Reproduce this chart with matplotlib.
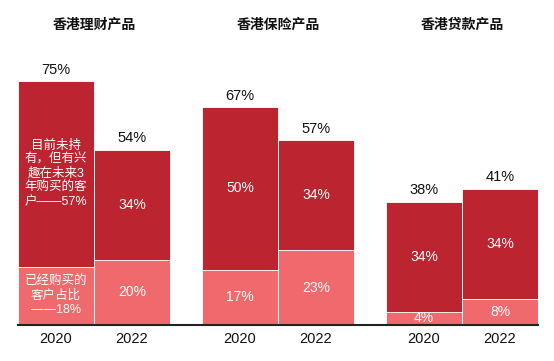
import numpy as np
import matplotlib.pyplot as plt

plt.rcParams['font.family'] = ['Liberation Sans', 'Noto Sans CJK SC', 'DejaVu Sans']

categories = ['香港理财产品', '香港保险产品', '香港贷款产品']
years = ['2020', '2022']
bought = [[18, 20], [17, 23], [4, 8]]
interested = [[57, 34], [50, 34], [34, 34]]
totals = [[75, 54], [67, 57], [38, 41]]
# labels for the first bar are explanatory
first_top_label = '目前未持\n有，但有兴\n趣在未来3\n年购买的客\n户——57%'
first_bottom_label = '已经购买的\n客户占比\n——18%'

dark = '#BC2430'
light = '#F0696C'

fig = plt.figure(figsize=(5.54, 3.61), dpi=100)
ax = fig.add_axes([18 / 554, 36 / 361, 520 / 554, 260 / 361])

step = 2.42
xs, xlabels = [], []
for g in range(len(categories)):
    for j in range(len(years)):
        x = g * step + j
        b = bought[g][j]
        it = interested[g][j]
        ax.bar(x, b, width=1, color=light, edgecolor='white', linewidth=0.6)
        ax.bar(x, it, bottom=b, width=1, color=dark, edgecolor='white', linewidth=0.6)
        if g == 0 and j == 0:
            ax.text(x, b + it / 2, first_top_label, ha='center', va='center',
                    color='white', fontsize=9, linespacing=1.22)
            ax.text(x, b / 2, first_bottom_label, ha='center', va='center',
                    color='white', fontsize=9, linespacing=1.22)
        else:
            ax.text(x, b + it / 2, '%d%%' % it, ha='center', va='center',
                    color='white', fontsize=10)
            ax.text(x, b / 2, '%d%%' % b, ha='center', va='center',
                    color='white', fontsize=10)
        ax.annotate('%d%%' % totals[g][j], (x, b + it), xytext=(0, 3),
                    textcoords='offset points', ha='center', va='bottom',
                    fontsize=10.5, color='#111111')
        xs.append(x)
        xlabels.append(years[j])
    ax.text(g * step + 0.5, 1.155, categories[g], transform=ax.get_xaxis_transform(),
            ha='center', va='center', fontsize=10, fontweight='bold', color='#111111')

ax.set_xlim(-0.5, xs[-1] + 0.5)
ax.set_ylim(0, 80)
ax.set_xticks(xs)
ax.set_xticklabels(xlabels, fontsize=10.5, color='#111111')
ax.tick_params(axis='x', length=0, pad=5)
ax.set_yticks([])
for s in ['top', 'right', 'left']:
    ax.spines[s].set_visible(False)
ax.spines['bottom'].set_color('#222222')
ax.spines['bottom'].set_linewidth(1.5)

fig.savefig('out.png', dpi=100)
